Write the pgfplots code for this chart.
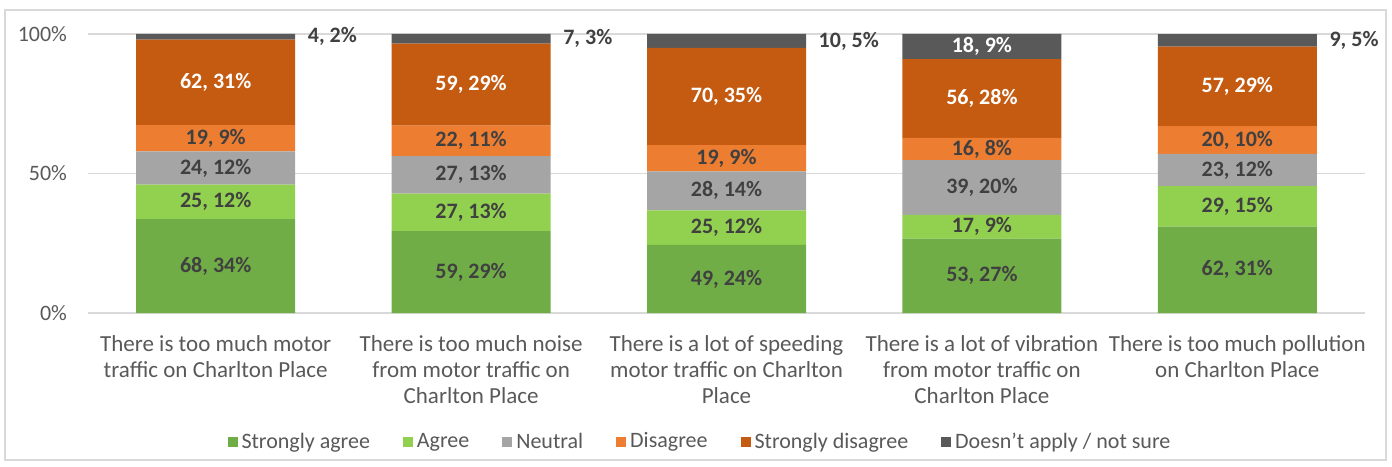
\documentclass[border=0pt]{standalone}
\usepackage{pgfplots}
\pgfplotsset{compat=1.18}
\usepackage{pgfplotstable}
\usepackage{fontspec}
\setmainfont{Carlito}

\definecolor{sagree}{HTML}{70AD47}
\definecolor{agree}{HTML}{92D050}
\definecolor{neutral}{HTML}{A5A5A5}
\definecolor{disagree}{HTML}{ED7D31}
\definecolor{sdisagree}{HTML}{C55A11}
\definecolor{nsure}{HTML}{595959}
\definecolor{lbl}{HTML}{404040}
\definecolor{txt}{HTML}{595959}
\definecolor{gridc}{HTML}{D9D9D9}

% share of respondents (%) per statement
\pgfplotstableread{
x  sa     a      n      d      sd     ns
0  33.66  12.38  11.88  9.41   30.69  1.98
1  29.35  13.43  13.43  10.95  29.35  3.49
2  24.38  12.44  13.93  9.45   34.83  4.97
3  26.63  8.54   19.60  8.04   28.14  9.05
4  31.00  14.50  11.50  10.00  28.50  4.50
}\shares

% labels "count, share" at the middle of each segment
\pgfplotstableread{
x  y      lab
0  16.83  {68, 34\%}
0  39.85  {25, 12\%}
0  51.98  {24, 12\%}
0  62.62  {19, 9\%}
1  14.68  {59, 29\%}
1  36.07  {27, 13\%}
1  49.50  {27, 13\%}
1  61.69  {22, 11\%}
2  12.19  {49, 24\%}
2  30.60  {25, 12\%}
2  43.79  {28, 14\%}
2  55.48  {19, 9\%}
3  13.32  {53, 27\%}
3  30.90  {17, 9\%}
3  44.97  {39, 20\%}
3  58.79  {16, 8\%}
4  15.50  {62, 31\%}
4  38.25  {29, 15\%}
4  51.25  {23, 12\%}
4  62.00  {20, 10\%}
}\darklabels

\pgfplotstableread{
x  y      lab
0  82.67  {62, 31\%}
1  81.84  {59, 29\%}
2  77.62  {70, 35\%}
3  76.88  {56, 28\%}
3  95.48  {18, 9\%}
4  81.25  {57, 29\%}
}\whitelabels

% small top segments labelled beside the bar
\pgfplotstableread{
x     y      lab
0.31  99.01  {4, 2\%}
1.31  98.26  {7, 3\%}
2.31  97.51  {10, 5\%}
4.31  97.75  {9, 5\%}
}\outlabels

\pgfplotsset{
  base/.style={
    width=638.5pt, height=139.5pt, scale only axis,
    xmin=-0.5, xmax=4.5, ymin=0, ymax=100,
    at={(0,0)}, anchor=south west,
  },
  lab/.style={draw=none, mark=none, nodes near coords,
    point meta=explicit symbolic,
    every node near coord/.append style={anchor=center,
      font=\bfseries\fontsize{11}{12}\selectfont, text=#1}},
}

\begin{document}
\begin{tikzpicture}
\useasboundingbox (-44pt,-76.5pt) rectangle (652pt,156.5pt);
\draw[gridc, line width=0.75pt] (-41.5pt,-73.5pt) rectangle (649pt,151.5pt);

\begin{axis}[
    base,
    ybar stacked, bar width=79.5pt,
    axis x line*=bottom, axis y line*=left,
    x axis line style={gridc, line width=0.75pt, -},
    y axis line style={draw=none},
    ymajorgrids, grid style={gridc, line width=0.75pt},
    major tick length=0,
    ytick={0,50,100}, yticklabels={0\%,50\%,100\%},
    yticklabel style={text=txt, font=\fontsize{11}{12}\selectfont, xshift=-7pt},
    xtick={0,1,2,3,4},
    xticklabels={
      {There is too much motor\\traffic on Charlton Place},
      {There is too much noise\\from motor traffic on\\Charlton Place},
      {There is a lot of speeding\\motor traffic on Charlton\\Place},
      {There is a lot of vibration\\from motor traffic on\\Charlton Place},
      {There is too much pollution\\on Charlton Place}},
    xticklabel style={text=txt, align=center, font=\fontsize{11.5}{13}\selectfont, yshift=-7.5pt},
    legend columns=6,
    legend style={at={(0.48,-0.462)}, anchor=center, draw=none,
      font=\fontsize{11}{12}\selectfont, text=txt,
      /tikz/every even column/.append style={column sep=14.5pt}},
    legend image code/.code={\fill[#1] (0pt,-2.5pt) rectangle (5pt,2.5pt);},
]
\addplot[fill=sagree, draw=none] table[x=x, y=sa] {\shares};
\addlegendentry{Strongly agree}
\addplot[fill=agree, draw=none] table[x=x, y=a] {\shares};
\addlegendentry{Agree}
\addplot[fill=neutral, draw=none] table[x=x, y=n] {\shares};
\addlegendentry{Neutral}
\addplot[fill=disagree, draw=none] table[x=x, y=d] {\shares};
\addlegendentry{Disagree}
\addplot[fill=sdisagree, draw=none] table[x=x, y=sd] {\shares};
\addlegendentry{Strongly disagree}
\addplot[fill=nsure, draw=none] table[x=x, y=ns] {\shares};
\addlegendentry{Doesn’t apply / not sure}
\end{axis}

\begin{axis}[base, hide axis]
\addplot[lab=lbl] table[x=x, y=y, meta=lab] {\darklabels};
\addplot[lab=white] table[x=x, y=y, meta=lab] {\whitelabels};
\addplot[lab=lbl, every node near coord/.append style={anchor=west, xshift=3pt}]
  table[x=x, y=y, meta=lab] {\outlabels};
\end{axis}
\end{tikzpicture}
\end{document}
